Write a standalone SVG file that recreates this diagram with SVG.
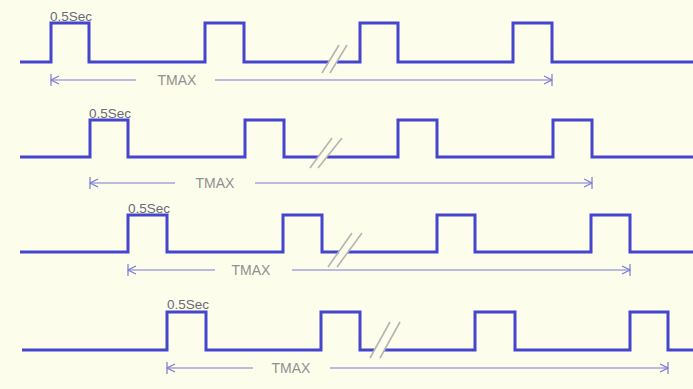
<svg xmlns="http://www.w3.org/2000/svg" width="693" height="389" viewBox="0 0 693 389">
<defs>
<style>
.sig{fill:none;stroke:#4545d0;stroke-width:3;stroke-linejoin:miter}
.dim{fill:none;stroke:#7b7bd6;stroke-width:1.2}
.brk{stroke:#b4b4b4;stroke-width:1.6}
.lbl{font-family:"Liberation Sans",Arial,sans-serif;font-size:14px;fill:#909090}
.sec{font-family:"Liberation Sans",Arial,sans-serif;font-size:13.5px;fill:#6a6a78}
</style>
<marker id="endL" viewBox="0 0 12 14" refX="1" refY="7" markerWidth="12" markerHeight="14" markerUnits="userSpaceOnUse" orient="auto">
<path d="M1,1 V13 M9,3 L1,7 L9,11" fill="none" stroke="#7b7bd6" stroke-width="1.2"/>
</marker>
<marker id="endR" viewBox="0 0 12 14" refX="11" refY="7" markerWidth="12" markerHeight="14" markerUnits="userSpaceOnUse" orient="auto">
<path d="M11,1 V13 M3,3 L11,7 L3,11" fill="none" stroke="#7b7bd6" stroke-width="1.2"/>
</marker>
</defs>
<rect x="0" y="0" width="693" height="389" fill="#fdfdec"/>

<g id="row1">
<path class="sig" d="M20,62 H51 V23 H89 V62 H205 V23 H244 V62 H329"/>
<path class="sig" d="M337,62 H360 V23 H398 V62 H513 V23 H552 V62 H693"/>
<line class="brk" x1="322" y1="73" x2="339" y2="45"/>
<line class="brk" x1="330" y1="73" x2="347" y2="45"/>
<text class="sec" x="50" y="21">0.5Sec</text>
</g>

<g id="row2">
<path class="sig" d="M20,157 H90 V120 H128 V157 H245 V120 H284 V157 H318"/>
<path class="sig" d="M327,157 H398 V120 H437 V157 H553 V120 H592 V157 H693"/>
<line class="brk" x1="310" y1="168" x2="332" y2="138"/>
<line class="brk" x1="318" y1="168" x2="342" y2="138"/>
<text class="sec" x="89" y="118">0.5Sec</text>
</g>

<g id="row3">
<path class="sig" d="M20,252 H128 V215 H167 V252 H283 V215 H322 V252 H339"/>
<path class="sig" d="M348,252 H437 V215 H475 V252 H591 V215 H630 V252 H693"/>
<line class="brk" x1="328" y1="267" x2="352" y2="233"/>
<line class="brk" x1="337" y1="267" x2="362" y2="233"/>
<text class="sec" x="128" y="213">0.5Sec</text>
</g>

<g id="row4">
<path class="sig" d="M22,350 H167 V312 H206 V350 H321 V312 H360 V350 H374"/>
<path class="sig" d="M384,350 H475 V312 H515 V350 H630 V312 H668 V350 H693"/>
<line class="brk" x1="370" y1="358" x2="390" y2="322"/>
<line class="brk" x1="380" y1="358" x2="400" y2="322"/>
<text class="sec" x="167" y="309">0.5Sec</text>
</g>

<g id="connectors">
<line class="dim" x1="51" y1="80" x2="136" y2="80" marker-start="url(#endL)"/>
<line class="dim" x1="215" y1="80" x2="552" y2="80" marker-end="url(#endR)"/>
<text class="lbl" x="177" y="85" text-anchor="middle">TMAX</text>

<line class="dim" x1="90" y1="183" x2="175" y2="183" marker-start="url(#endL)"/>
<line class="dim" x1="255" y1="183" x2="592" y2="183" marker-end="url(#endR)"/>
<text class="lbl" x="215" y="188" text-anchor="middle">TMAX</text>

<line class="dim" x1="128" y1="270" x2="215" y2="270" marker-start="url(#endL)"/>
<line class="dim" x1="292" y1="270" x2="630" y2="270" marker-end="url(#endR)"/>
<text class="lbl" x="251" y="275" text-anchor="middle">TMAX</text>

<line class="dim" x1="167" y1="368" x2="253" y2="368" marker-start="url(#endL)"/>
<line class="dim" x1="330" y1="368" x2="668" y2="368" marker-end="url(#endR)"/>
<text class="lbl" x="291" y="373" text-anchor="middle">TMAX</text>
</g>
</svg>
